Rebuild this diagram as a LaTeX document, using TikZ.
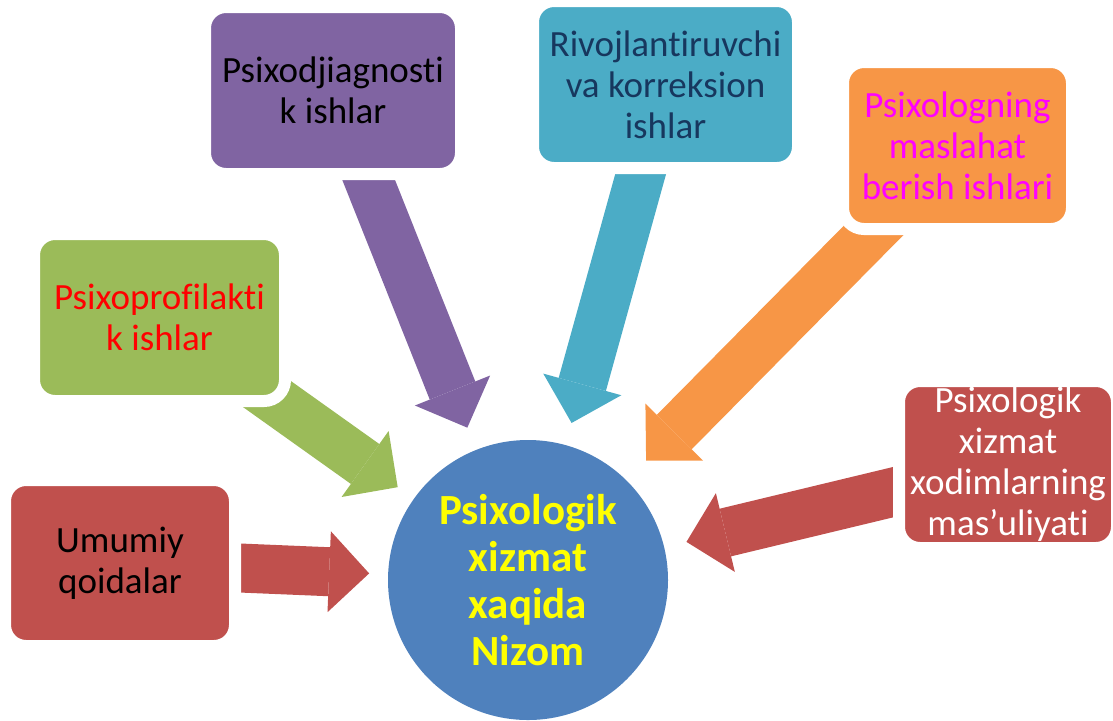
\documentclass[tikz,border=0pt]{standalone}
\usepackage{fontspec}
\setmainfont{Carlito}[Ligatures={NoCommon,NoContextual},RawFeature={-liga;-clig}]
\usetikzlibrary{arrows.meta,backgrounds}
\definecolor{boxpurple}{HTML}{8064A2}
\definecolor{boxcyan}{HTML}{4BACC6}
\definecolor{boxorange}{HTML}{F79646}
\definecolor{boxgreen}{HTML}{9BBB59}
\definecolor{boxred}{HTML}{C0504D}
\definecolor{nizomblue}{HTML}{4F81BD}
\definecolor{textnavy}{HTML}{17375E}
\definecolor{textmagenta}{HTML}{FF00FF}
\definecolor{textred}{HTML}{FF0000}
\definecolor{textyellow}{HTML}{FFFF00}

\begin{document}
\begin{tikzpicture}[x=0.5pt,y=-0.5pt,
        box/.style={rounded corners=10.5pt,draw=white,line width=6pt,align=center,inner sep=0pt,
            minimum height=83.5pt,font=\fontsize{18.5pt}{20.5pt}\selectfont},
        blockarrow/.style={line width=24.5pt,-{Triangle[length=20pt,width=40.5pt,line width=0pt]}}]
    \useasboundingbox (0,0) rectangle (1113,720);

    \node[circle,fill=nizomblue,minimum size=140pt,inner sep=0pt,outer sep=0pt,text=textyellow,align=center,
        font=\bfseries\fontsize{21.5pt}{23.5pt}\selectfont] (nizom) at (528,580) {Psixologik\\xizmat\\xaqida\\Nizom};

    \node[box,fill=boxpurple,minimum width=128pt] (diag) at (333,90.5) {Psixodjiagnosti\\k ishlar};
    \node[box,fill=boxcyan,text=textnavy,minimum width=132.5pt] (rivoj) at (665.5,84.5) {Rivojlantiruvchi\\va korreksion\\ishlar};
    \node[box,fill=boxorange,text=textmagenta,minimum width=114.5pt] (maslahat) at (957.5,145.5) {Psixologning\\maslahat\\berish ishlari};
    \node[box,fill=boxgreen,text=textred,minimum width=125.5pt] (profil) at (159.5,317.5) {Psixoprofilakti\\k ishlar};
    \node[box,fill=boxred,minimum width=115pt,minimum height=83pt] (umumiy) at (120,563) {Umumiy\\qoidalar};
    \node[box,fill=boxred,text=white,minimum width=109pt] (masul) at (1008,464.5) {Psixologik\\xizmat\\xodimlarning\\mas’uliyati};

    \begin{pgfonlayer}{background}
        \foreach \b/\c/\s in {diag/boxpurple/12,rivoj/boxcyan/11.5,maslahat/boxorange/14,
                profil/boxgreen/10,umumiy/boxred/9.5,masul/boxred/11.5}
            \draw[blockarrow,\c,shorten >=\s pt] (\b.center) -- (nizom);
    \end{pgfonlayer}
\end{tikzpicture}
\end{document}
